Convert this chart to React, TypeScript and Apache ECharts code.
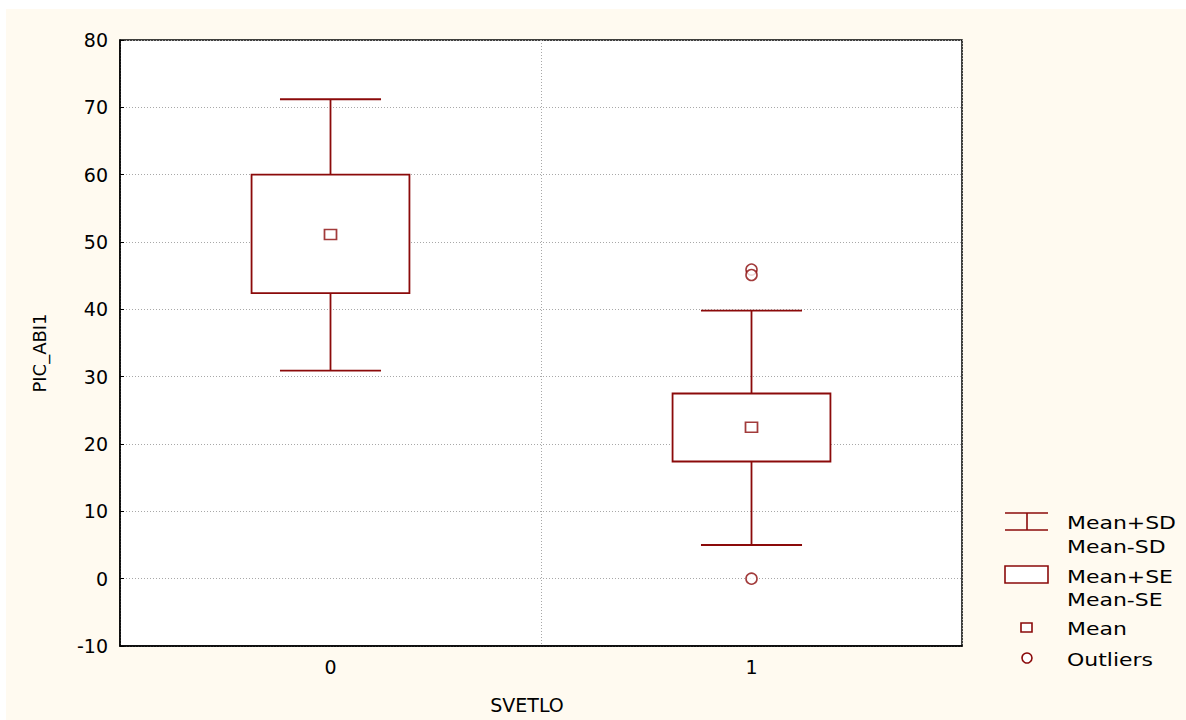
import { useEffect, useRef } from 'react';
import * as echarts from 'echarts';

const categories = ['0', '1'];
const meanValues = [51.1, 22.5];
const seLower = [42.4, 17.4];
const seUpper = [60.0, 27.5];
const sdLower = [30.9, 5.0];
const sdUpper = [71.2, 39.8];
const outlierCategory = [1, 1, 1];
const outlierValues = [45.9, 45.1, 0.0];
const yMin = -10;
const yMax = 80;
const yInterval = 10;
const legendLabels = ['Mean+SD', 'Mean-SD', 'Mean+SE', 'Mean-SE', 'Mean', 'Outliers'];

const RED = '#8b0a0a';
const FONT = 'DejaVu Sans';

export default function App() {
  const ref = useRef<HTMLDivElement>(null);

  useEffect(() => {
    const chart = echarts.init(ref.current!, null, { renderer: 'svg' });

    const boxData = categories.map((_, i) => [i, sdLower[i], seLower[i], meanValues[i], seUpper[i], sdUpper[i]]);
    const meanData = meanValues.map((v, i) => [i, v]);
    const outlierData = outlierValues.map((v, i) => [outlierCategory[i], v]);

    const legendText = (label: string, y: number) => ({
      type: 'text',
      x: 1067,
      y,
      scaleX: 1.22,
      style: { text: label, font: `18px "${FONT}"`, fill: '#000', textVerticalAlign: 'middle', verticalAlign: 'middle' },
      z: 10,
    });
    const lineStyle = { stroke: RED, lineWidth: 1.6 };

    chart.setOption({
      animation: false,
      backgroundColor: '#ffffff',
      graphic: [
        { type: 'rect', shape: { x: 6, y: 9, width: 1180, height: 711 }, style: { fill: '#fffaf0' }, z: -10, silent: true },
        { type: 'line', shape: { x1: 1005, y1: 513, x2: 1048, y2: 513 }, style: lineStyle, z: 10 },
        { type: 'line', shape: { x1: 1005, y1: 530, x2: 1048, y2: 530 }, style: lineStyle, z: 10 },
        { type: 'line', shape: { x1: 1027, y1: 513, x2: 1027, y2: 530 }, style: lineStyle, z: 10 },
        legendText(legendLabels[0], 523),
        legendText(legendLabels[1], 547),
        { type: 'rect', shape: { x: 1005, y: 566, width: 43, height: 17 }, style: { ...lineStyle, fill: '#fff' }, z: 10 },
        legendText(legendLabels[2], 577),
        legendText(legendLabels[3], 600),
        { type: 'rect', shape: { x: 1021, y: 623, width: 11, height: 9 }, style: { ...lineStyle, fill: '#fff' }, z: 10 },
        legendText(legendLabels[4], 629),
        { type: 'circle', shape: { cx: 1027, cy: 658, r: 5 }, style: { ...lineStyle, fill: '#fff' }, z: 10 },
        legendText(legendLabels[5], 660),
      ],
      grid: {
        left: 120,
        top: 40,
        width: 842,
        height: 606,
        show: true,
        backgroundColor: '#ffffff',
        borderColor: '#000',
        borderWidth: 1.5,
      },
      xAxis: {
        type: 'category',
        data: categories,
        boundaryGap: true,
        name: 'SVETLO',
        nameLocation: 'middle',
        nameGap: 49,
        nameTextStyle: { fontFamily: FONT, fontSize: 19, color: '#000', padding: [0, 28, 0, 0] },
        axisLine: { onZero: false, lineStyle: { color: '#000', width: 1.5 } },
        axisTick: { inside: true, length: 5, lineStyle: { color: '#000' } },
        axisLabel: { fontFamily: FONT, fontSize: 19, color: '#000', margin: 11 },
        splitLine: { show: true, lineStyle: { color: '#a8a8a8', type: [1, 2], width: 1 } },
      },
      yAxis: {
        type: 'value',
        min: yMin,
        max: yMax,
        interval: yInterval,
        name: 'PIC_ABI1',
        nameLocation: 'middle',
        nameGap: 72,
        nameTextStyle: { fontFamily: FONT, fontSize: 18, color: '#000', padding: [0, 20, 0, 0] },
        axisLine: { show: true, lineStyle: { color: '#000', width: 1.5 } },
        axisTick: { show: true, inside: true, length: 4, lineStyle: { color: '#000' } },
        axisLabel: { fontFamily: FONT, fontSize: 19, color: '#000', margin: 12 },
        splitLine: { show: true, lineStyle: { color: '#a8a8a8', type: [1, 2], width: 1 } },
      },
      series: [
        {
          type: 'custom',
          data: boxData,
          z: 3,
          renderItem: (_params: any, api: any) => {
            const x = api.value(0);
            const band = api.size([1, 0])[0];
            const boxW = band * 0.375;
            const capW = band * 0.24;
            const pSdLo = api.coord([x, api.value(1)]);
            const pSeLo = api.coord([x, api.value(2)]);
            const pSeHi = api.coord([x, api.value(4)]);
            const pSdHi = api.coord([x, api.value(5)]);
            const cx = pSdLo[0];
            const st = { stroke: RED, lineWidth: 1.8, fill: null };
            return {
              type: 'group',
              children: [
                { type: 'line', shape: { x1: cx, y1: pSdHi[1], x2: cx, y2: pSeHi[1] }, style: st },
                { type: 'line', shape: { x1: cx, y1: pSeLo[1], x2: cx, y2: pSdLo[1] }, style: st },
                { type: 'line', shape: { x1: cx - capW / 2, y1: pSdHi[1], x2: cx + capW / 2, y2: pSdHi[1] }, style: st },
                { type: 'line', shape: { x1: cx - capW / 2, y1: pSdLo[1], x2: cx + capW / 2, y2: pSdLo[1] }, style: st },
                {
                  type: 'rect',
                  shape: { x: cx - boxW / 2, y: pSeHi[1], width: boxW, height: pSeLo[1] - pSeHi[1] },
                  style: { stroke: RED, lineWidth: 1.8, fill: '#fff' },
                },
              ],
            };
          },
        },
        {
          type: 'scatter',
          name: 'Mean',
          data: meanData,
          symbol: 'rect',
          symbolSize: [12, 10],
          z: 5,
          itemStyle: { color: '#fff', borderColor: RED, borderWidth: 1.6 },
        },
        {
          type: 'scatter',
          name: 'Outliers',
          data: outlierData,
          symbol: 'circle',
          symbolSize: 11,
          z: 5,
          itemStyle: { color: '#fff', borderColor: RED, borderWidth: 1.6 },
        },
      ],
    });

    return () => chart.dispose();
  }, []);

  return (
    <div
      ref={ref}
      style={{ position: 'absolute', left: 0, top: 0, width: 1186, height: 720, background: '#fff' }}
    />
  );
}
